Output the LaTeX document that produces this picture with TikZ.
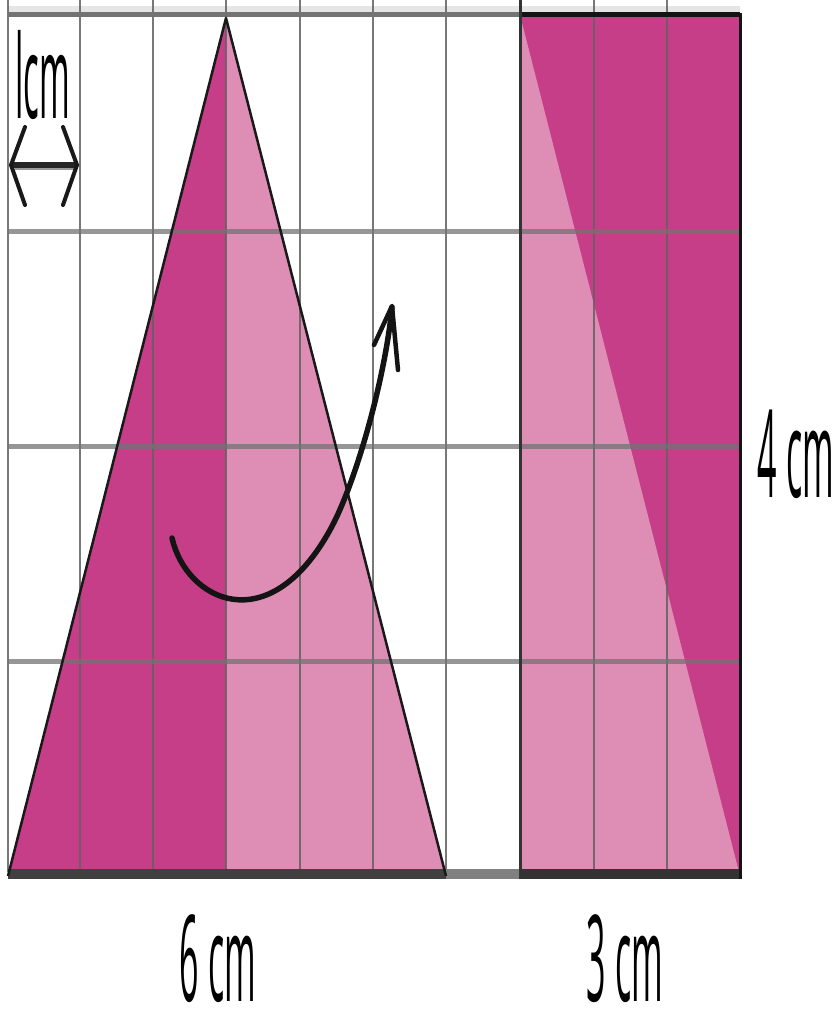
\documentclass[tikz,border=0pt]{standalone}
\usepackage{fontspec}
\newfontfamily\labfont{Open Sans}
\definecolor{dk}{HTML}{C63D88}
\definecolor{lt}{HTML}{DE8DB5}
\newcommand{\lbltxt}[3]{\raisebox{0pt}[\height][0pt]{\scalebox{#1}[#2]{#3}}}
\begin{document}
\begin{tikzpicture}[x=1pt,y=-1pt,
  gridv/.style={draw=black!62,line width=2.5pt,opacity=.85},
  gridh/.style={draw=black!55,line width=5pt,opacity=.75},
  edge/.style={draw=black!90,line width=2.5pt,line join=round},
  lbl/.style={font=\labfont\fontsize{40}{40}\selectfont,inner sep=0pt,anchor=base},
  stroke/.style={draw=black!92,line width=5.5pt,line cap=round,line join=round}]
\useasboundingbox (0,0) rectangle (839,1014);
\fill[white] (0,0) rectangle (839,1014);
% fills
\fill[dk] (8,876) -- (226,18) -- (226,876) -- cycle;
\fill[lt] (226,18) -- (446,876) -- (226,876) -- cycle;
\fill[dk] (520,15) rectangle (740,876);
\fill[lt] (520,15) -- (740,876) -- (520,876) -- cycle;
% light band above top line
\draw[black!10,line width=6pt] (8,9) -- (740,9);
% vertical grid lines
\foreach \x in {8,80,153,226,300,373,446,594,667}
  \draw[gridv] (\x,0) -- (\x,872);
% horizontal grid lines
\foreach \y in {231,446,661}
  \draw[gridh] (8,\y) -- (740,\y);
\draw[draw=black!55,line width=5pt] (8,15) -- (520,15);
\draw[draw=black!92,line width=5pt] (520,15) -- (740,15);
% bottom line
\draw[draw=black!75,line width=10pt] (8,874) -- (446,874);
\draw[draw=black!50,line width=10pt] (446,874) -- (520,874);
\draw[draw=black!80,line width=10pt] (520,874) -- (740,874);
% outlines
\draw[edge] (8,876) -- (226,18) -- (446,876);
\draw[draw=black!80,line width=3pt] (520,0) -- (520,879);
\draw[draw=black!92,line width=3pt] (740,13) -- (740,879);
% curved arrow
\draw[stroke] (172,538) .. controls (186,600) and (268,642) .. (330,530)
  .. controls (355,485) and (385,380) .. (392,307);
\draw[draw=black!92,line width=4.5pt,line cap=round,line join=round]
  (374,345) -- (392,306) -- (398,370);
% 1cm double arrow
\draw[draw=black!85,line width=5.5pt] (13,165) -- (77,165);
\draw[draw=black!40,line width=2pt] (15,168.5) -- (75,168.5);
\draw[draw=black!90,line width=4pt,line cap=round,line join=round]
  (25,127) -- (11,165) -- (25,205);
\draw[draw=black!90,line width=4pt,line cap=round,line join=round]
  (63,127) -- (77,165) -- (63,205);
% labels
\node[lbl] (unit) at (43,118) {\lbltxt{0.825}{2.9}{lcm}};
\node[lbl] (four) at (796,497) {\lbltxt{0.85}{3.05}{4 cm}};
\node[lbl] (six) at (218,1001) {\lbltxt{0.85}{3.0}{6 cm}};
\node[lbl] (three) at (625,1001) {\lbltxt{0.85}{3.0}{3 cm}};
\end{tikzpicture}
\end{document}
